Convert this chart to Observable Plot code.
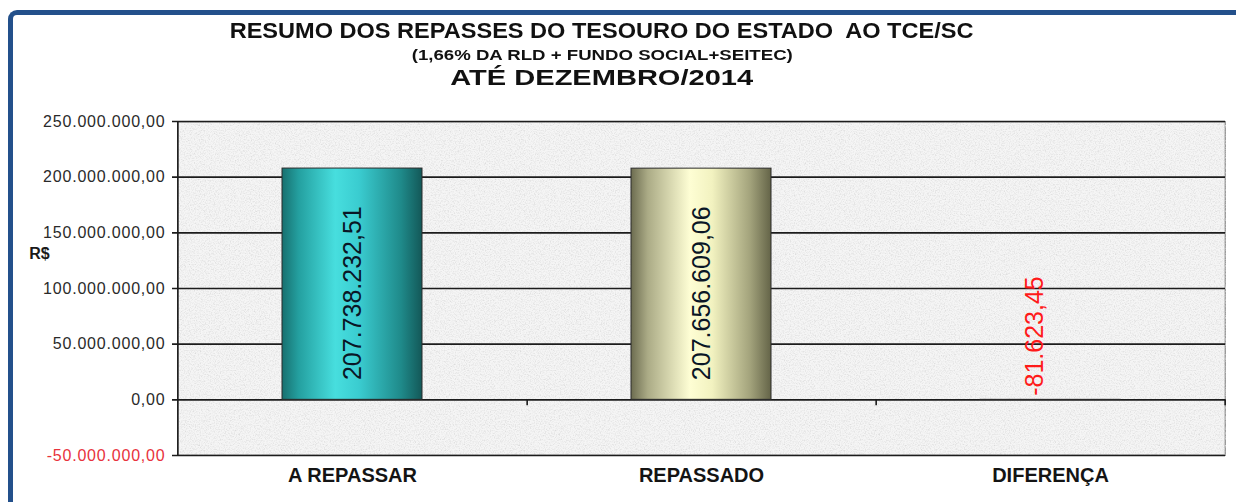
<!DOCTYPE html>
<html><head><meta charset="utf-8">
<script src="https://cdn.jsdelivr.net/npm/d3@7"></script>
<script src="https://cdn.jsdelivr.net/npm/@observablehq/plot@0.6"></script>
<style>
html,body{margin:0;padding:0;background:#fff;}
body{width:1236px;height:502px;overflow:hidden;position:relative;font-family:"Liberation Sans",Arial,sans-serif;}
#border{position:absolute;left:8px;top:10px;width:1300px;height:600px;border-left:5px solid #23508b;border-top:5px solid #23508b;border-top-left-radius:9px;box-sizing:border-box;}
.t{position:absolute;left:0;width:1204px;text-align:center;font-weight:bold;color:#111;white-space:pre;}
.t span{display:inline-block;transform-origin:center;}
#t1{top:19px;font-size:22px;line-height:24px;}
#t1 span{transform:scaleX(1.07);}
#t2{top:47px;font-size:14px;line-height:16px;}
#t2 span{transform:scaleX(1.33);}
#t3{top:66px;font-size:22px;line-height:24px;}
#t3 span{transform:scaleX(1.32);}
#chart{position:absolute;left:0;top:100px;}
</style></head>
<body>
<div id="border"></div>
<div class="t" id="t1"><span></span></div>
<div class="t" id="t2"><span></span></div>
<div class="t" id="t3"><span></span></div>
<div id="chart"></div>
<script>
const titleLines = [
  "RESUMO DOS REPASSES DO TESOURO DO ESTADO  AO TCE/SC",
  "(1,66% DA RLD + FUNDO SOCIAL+SEITEC)",
  "ATÉ DEZEMBRO/2014"
];
const yLabel = "R$";
const categories = ["A REPASSAR", "REPASSADO", "DIFERENÇA"];
const values = [207738232.51, 207656609.06, -81623.45];
const yTicks = [-50000000, 0, 50000000, 100000000, 150000000, 200000000, 250000000];

["t1", "t2", "t3"].forEach((id, i) => {
  document.querySelector("#" + id + " span").textContent = titleLines[i];
});

const locale = d3.formatLocale({decimal: ",", thousands: ".", grouping: [3], currency: ["R$ ", ""], minus: "-"});
const fmt = locale.format(",.2f");

const rows = categories.map((c, i) => ({cat: c, value: values[i]}));

const W = 1236, H = 402, mL = 177, mR = 11, mT = 21, mB = 47;
const step = (W - mL - mR) / categories.length;
const ink = "#1c1c1c";

const plot = Plot.plot({
  width: W, height: H,
  marginLeft: mL, marginRight: mR, marginTop: mT, marginBottom: mB,
  style: {background: "transparent", fontFamily: "'Liberation Sans', Arial, sans-serif", overflow: "visible"},
  x: {domain: categories, paddingInner: 0.6, paddingOuter: 0.3, axis: null},
  y: {domain: [-50000000, 250000000], axis: null},
  color: {domain: categories, range: ["url(#gradTeal)", "url(#gradOlive)", "url(#gradRed)"]},
  marks: [
    Plot.frame({fill: "#f5f5f5", stroke: "#9a9a9a", strokeWidth: 2, ariaLabel: "bg"}),
    Plot.ruleY(yTicks, {y: d => d, stroke: ink, strokeWidth: 1.6, insetLeft: -5}),
    Plot.ruleX([categories[0]], {x: d => d, dx: -step / 2, stroke: ink, strokeWidth: 1.6}),
    Plot.ruleX(categories, {x: d => d, dx: step / 2, y1: 0, y2: 0, insetBottom: -6, stroke: ink, strokeWidth: 1.6}),
    Plot.barY(rows, {x: "cat", y: "value", fill: "cat", stroke: "#2b2b2b", strokeWidth: 1}),
    Plot.text(rows.filter(d => d.value > 0), {x: "cat", y: d => d.value / 2, text: d => fmt(d.value), rotate: -90, fontSize: 25, dy: 9, fill: "#0a1626"}),
    Plot.text(rows.filter(d => d.value < 0), {x: "cat", y: 0, text: d => fmt(d.value), rotate: -90, textAnchor: "start", fontSize: 25, dx: -16, dy: -4, fill: "#ff1a1a"}),
    Plot.text(yTicks.filter(d => d >= 0), {y: d => d, text: d => fmt(d), frameAnchor: "left", textAnchor: "end", dx: -12, fontSize: 16, fill: "#2a2a2a"}),
    Plot.text(yTicks.filter(d => d < 0), {y: d => d, text: d => fmt(d), frameAnchor: "left", textAnchor: "end", dx: -12, fontSize: 16, fill: "#e8323c"}),
    Plot.text([yLabel], {frameAnchor: "left", textAnchor: "middle", dx: -138, dy: -35, fontSize: 16, fontWeight: "bold", fill: "#1a1a1a"}),
    Plot.text(categories, {x: d => d, frameAnchor: "bottom", dy: 26, fontSize: 20, fontWeight: "bold", fill: "#141414"})
  ]
});

plot.insertAdjacentHTML("afterbegin", `
<defs>
<linearGradient id="gradTeal" x1="0" x2="1" y1="0" y2="0">
 <stop offset="0" stop-color="#17706f"/>
 <stop offset="0.12" stop-color="#24a0a0"/>
 <stop offset="0.38" stop-color="#47dede"/>
 <stop offset="0.55" stop-color="#3accd0"/>
 <stop offset="0.85" stop-color="#1f8a8a"/>
 <stop offset="1" stop-color="#135858"/>
</linearGradient>
<linearGradient id="gradOlive" x1="0" x2="1" y1="0" y2="0">
 <stop offset="0" stop-color="#6c6c50"/>
 <stop offset="0.12" stop-color="#abab86"/>
 <stop offset="0.42" stop-color="#fefed4"/>
 <stop offset="0.58" stop-color="#f2f2c0"/>
 <stop offset="0.85" stop-color="#a3a37c"/>
 <stop offset="1" stop-color="#646448"/>
</linearGradient>
<linearGradient id="gradRed" x1="0" x2="1" y1="0" y2="0">
 <stop offset="0" stop-color="#8a2020"/>
 <stop offset="0.4" stop-color="#ff6060"/>
 <stop offset="1" stop-color="#7a1818"/>
</linearGradient>
<filter id="granite" x="0" y="0" width="1" height="1">
 <feTurbulence type="fractalNoise" baseFrequency="0.8" numOctaves="3" seed="7" result="noise"/>
 <feColorMatrix in="noise" type="matrix" values="0 0 0 0 0.7  0 0 0 0 0.7  0 0 0 0 0.7  2.0 0 0 0 -0.85" result="spots"/>
 <feComposite in="spots" in2="SourceGraphic" operator="atop"/>
</filter>
</defs>`);

const bg = plot.querySelector('[aria-label="bg"]');
if (bg) {
  const r = bg.tagName.toLowerCase() === "rect" ? bg : bg.querySelector("rect");
  if (r) r.setAttribute("filter", "url(#granite)");
}

// widen y tick labels slightly, as in the reference
const tickStrings = new Set(yTicks.map(fmt));
plot.querySelectorAll("text").forEach(t => {
  if (tickStrings.has(t.textContent)) t.style.letterSpacing = "0.8px";
});

document.getElementById("chart").appendChild(plot);
</script>
</body></html>
